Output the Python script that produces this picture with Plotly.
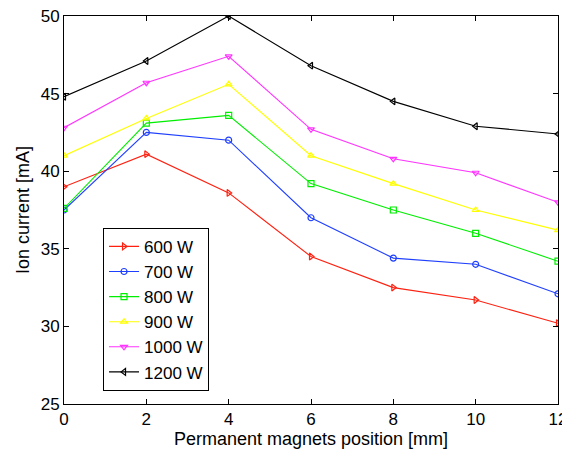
import plotly.graph_objects as go

positions = [0, 2, 4, 6, 8, 10, 12]
series_names = ["600 W", "700 W", "800 W", "900 W", "1000 W", "1200 W"]
current_600 = [39.0, 41.1, 38.6, 34.5, 32.5, 31.7, 30.2]
current_700 = [37.5, 42.5, 42.0, 37.0, 34.4, 34.0, 32.1]
current_800 = [37.6, 43.1, 43.6, 39.2, 37.5, 36.0, 34.2]
current_900 = [41.0, 43.4, 45.6, 41.0, 39.2, 37.5, 36.2]
current_1000 = [42.8, 45.7, 47.4, 42.7, 40.8, 39.9, 38.0]
current_1200 = [44.8, 47.1, 50.0, 46.8, 44.5, 42.9, 42.4]

colors = ["#ff2010", "#1f3fff", "#00ee00", "#ffff00", "#ff33ff", "#000000"]
symbols = ["triangle-right-open", "circle-open", "square-open",
           "triangle-up-open", "triangle-down-open", "triangle-left-open"]
all_series = [current_600, current_700, current_800, current_900, current_1000, current_1200]

fig = go.Figure()
for name, vals, c, s in zip(series_names, all_series, colors, symbols):
    fig.add_trace(go.Scatter(
        x=positions, y=vals, name=name, mode="lines+markers",
        line=dict(color=c, width=1.1),
        marker=dict(symbol=s, size=6, color=c, line=dict(width=1.2, color=c)),
    ))

font_family = "Liberation Sans, Arial, sans-serif"
fig.update_layout(
    width=562, height=453,
    margin=dict(l=64, r=4, t=16, b=49, autoexpand=False),
    paper_bgcolor="white", plot_bgcolor="white",
    font=dict(family=font_family, size=17, color="black"),
    showlegend=True,
    legend=dict(
        x=0.079, y=0.454, xanchor="left", yanchor="top",
        bgcolor="white", bordercolor="black", borderwidth=1,
        font=dict(size=17), tracegroupgap=0, itemwidth=30,
    ),
    xaxis=dict(
        range=[0, 12], tickvals=[0, 2, 4, 6, 8, 10, 12],
        ticks="inside", ticklen=5, tickcolor="black",
        showline=True, linecolor="black", linewidth=1, mirror="ticks",
        showgrid=False, zeroline=False, ticklabeloverflow="allow",
        automargin=False,
        title=dict(text="Permanent magnets position [mm]", standoff=0, font=dict(size=18)),
        tickfont=dict(size=17),
    ),
    yaxis=dict(
        range=[25, 50], tickvals=[25, 30, 35, 40, 45, 50],
        ticks="inside", ticklen=5, tickcolor="black",
        showline=True, linecolor="black", linewidth=1, mirror="ticks",
        showgrid=False, zeroline=False, ticklabeloverflow="allow",
        automargin=False,
        title=dict(text="Ion current [mA]", standoff=6, font=dict(size=18)),
        tickfont=dict(size=17),
    ),
)

fig.write_html("out.html")
